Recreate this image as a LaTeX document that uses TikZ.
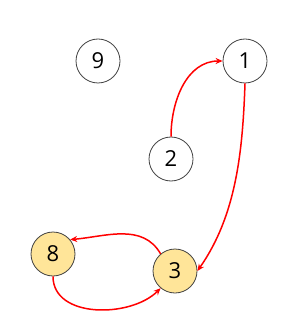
\documentclass[tikz,border=0pt]{standalone}
\usepackage{fontspec}
\setmainfont{Open Sans}
\usetikzlibrary{arrows.meta}

\definecolor{hilite}{HTML}{FFE599}
\definecolor{edgered}{HTML}{FF0000}

\begin{document}
\begin{tikzpicture}[x=1pt,y=-1pt,
  vert/.style={circle,draw=black!75,line width=0.8pt,minimum size=44pt,
    inner sep=0pt,font=\fontsize{22}{22}\selectfont},
  visited/.style={vert,fill=hilite},
  link/.style={draw=edgered,line width=1.5pt,-{Stealth[length=7pt,width=6pt]}}]
  \useasboundingbox (0,0) rectangle (283,312);

  \node[vert] (n9) at (98,61) {9};
  \node[vert] (n1) at (245,61) {1};
  \node[vert] (n2) at (171,159) {2};
  \node[visited] (n8) at (53,254) {8};
  \node[visited] (n3) at (175,271) {3};

  \draw[link] (n2.north) to[out=90,in=180] (n1.west);
  \draw[link] (n1.south) to[out=-92,in=55,looseness=0.9] (n3.east);
  \draw[link] (n3.130) to[out=120,in=5] (n8.40);
  \draw[link] (n8.south) to[out=-90,in=-135] (n3.-130);
\end{tikzpicture}
\end{document}
